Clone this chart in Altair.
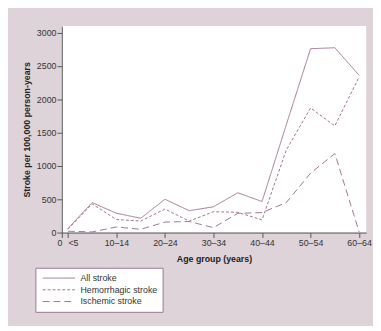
import altair as alt
import pandas as pd

groups = ["<5", "5–9", "10–14", "15–19", "20–24", "25–29", "30–34",
          "35–39", "40–44", "45–49", "50–54", "55–59", "60–64"]
all_stroke = [60, 450, 290, 215, 500, 328, 387, 598, 466, 1620, 2760, 2775, 2360]
hemorrhagic = [50, 430, 196, 172, 353, 172, 313, 304, 190, 1240, 1871, 1602, 2337]
ischemic = [20, 10, 84, 49, 157, 166, 73, 289, 300, 451, 892, 1186, 10]
series = ["All stroke", "Hemorrhagic stroke", "Ischemic stroke"]
y_ticks = [0, 500, 1000, 1500, 2000, 2500, 3000]
x_tick_labels = ["0", "<5", "10–14", "20–24", "30–34", "40–44", "50–54", "60–64"]

rows = []
for name, vals in zip(series, [all_stroke, hemorrhagic, ischemic]):
    for i, (g, v) in enumerate(zip(groups, vals)):
        rows.append({"pos": 0.25 + i, "group": g, "rate": v, "series": name})
df = pd.DataFrame(rows)

x_tick_values = [0, 0.25, 2.25, 4.25, 6.25, 8.25, 10.25, 12.25]
label_expr = " : ".join(
    f"datum.value == {v} ? '{l}'" for v, l in zip(x_tick_values, x_tick_labels)
) + " : ''"

MAUVE = "#a07592"
FONT = "Liberation Sans"

chart = alt.Chart(df).mark_line(strokeWidth=1, color=MAUVE).encode(
    x=alt.X("pos:Q",
            scale=alt.Scale(domain=[0, 12.54], nice=False, zero=False),
            axis=alt.Axis(values=x_tick_values, labelExpr=label_expr,
                          labelAlign=alt.ExprRef(expr="datum.value == 0.25 ? 'left' : (datum.value == 0 ? 'right' : 'center')"),
                          title="Age group (years)", labelFlush=False,
                          labelOverlap=False, labelPadding=1, titlePadding=8)),
    y=alt.Y("rate:Q",
            scale=alt.Scale(domain=[0, 3100], nice=False),
            axis=alt.Axis(values=y_ticks, format="d",
                          title="Stroke per 100,000 person-years",
                          labelPadding=1, titlePadding=5)),
    strokeDash=alt.StrokeDash(
        "series:N",
        scale=alt.Scale(domain=series, range=[[1, 0], [3, 2], [7, 4]]),
        legend=alt.Legend(title=None, orient="none", legendX=-27, legendY=247,
                          strokeColor=MAUVE, fillColor="white", padding=5,
                          symbolType="M-0.6,0H6", symbolSize=100,
                          symbolStrokeWidth=1, symbolStrokeColor=MAUVE,
                          labelFontSize=9, labelFont=FONT, labelColor="#333",
                          labelOffset=30, rowPadding=1)),
    detail="series:N",
).properties(
    width=311, height=211,
    autosize=alt.AutoSizeParams(type="none"),
    padding={"left": 55, "top": 15, "right": 7, "bottom": 92},
    background="#ddd3d9",
).configure_view(
    stroke=None, fill="white"
).configure_axis(
    grid=False, domainColor="#555", tickColor="#555", tickSize=5,
    labelFont=FONT, labelFontSize=9, labelColor="#333",
    titleFont=FONT, titleFontSize=9, titleFontWeight="bold", titleColor="#222",
)

chart.save("out.html", embed_options={"renderer": "svg", "actions": False})
